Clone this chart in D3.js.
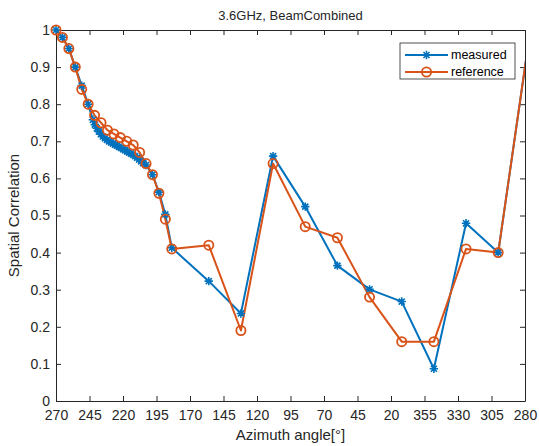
<!DOCTYPE html>
<html>
<head>
<meta charset="utf-8">
<script src="https://cdn.jsdelivr.net/npm/d3@7"></script>
<style>
  html, body { margin: 0; padding: 0; background: #fff; }
  svg { display: block; font-family: "Liberation Sans", Arial, sans-serif; }
</style>
</head>
<body>
<svg id="chart" width="539" height="446"></svg>
<script>
// Azimuth angles (deg) sampled clockwise from 270 through 0; values > 270 lie past north.
const measuredAz = [270, 265.2, 260.4, 255.6, 250.8, 246, 242.5, 241, 239.5, 238, 236.5, 235, 233.5,
  232, 230.5, 229, 227.5, 226, 224.5, 223, 221.5, 220, 218.5, 217, 215.5, 214, 212.5, 211, 209.5,
  208, 206.5, 205, 202.8, 198, 193.2, 188.4, 183.6, 156, 132, 108, 84, 60, 36, 12, 348, 324, 300, 276];
const measuredVal = [1.0, 0.98, 0.95, 0.90, 0.85, 0.80, 0.758, 0.745, 0.735, 0.726, 0.719, 0.713, 0.708,
  0.704, 0.700, 0.697, 0.694, 0.691, 0.688, 0.685, 0.682, 0.679, 0.676, 0.673, 0.670, 0.667, 0.664,
  0.660, 0.656, 0.651, 0.646, 0.641, 0.636, 0.61, 0.563, 0.503, 0.413, 0.323, 0.236, 0.66, 0.524,
  0.365, 0.301, 0.268, 0.087, 0.479, 0.40, 1.0];

const referenceAz = [270, 265.2, 260.4, 255.6, 250.8, 246, 241.2, 236.4, 231.6, 226.8, 222, 217.2,
  212.4, 207.6, 202.8, 198, 193.2, 188.4, 183.6, 156, 132, 108, 84, 60, 36, 12, 348, 324, 300, 276];
const referenceVal = [1.0, 0.98, 0.95, 0.90, 0.84, 0.80, 0.77, 0.75, 0.73, 0.72, 0.71, 0.70, 0.69,
  0.67, 0.64, 0.61, 0.56, 0.49, 0.41, 0.42, 0.19, 0.64, 0.47, 0.44, 0.28, 0.16, 0.16, 0.41, 0.40, 1.0];

const xTicks = [270, 245, 220, 195, 170, 145, 120, 95, 70, 45, 20, -5, -30, -55, -80];
const yTicks = [0, 0.1, 0.2, 0.3, 0.4, 0.5, 0.6, 0.7, 0.8, 0.9, 1];

const seriesNames = ["measured", "reference"];
const colors = ["#0072BD", "#D95319"];

// unwrap an azimuth so the sweep 270 -> 0 -> 280 is continuous
const unwrap = a => (a <= 270 ? a : a - 360);

const margin = { left: 56, right: 14, top: 30, bottom: 45 };
const W = 539, H = 446;
const svg = d3.select("#chart");
const x = d3.scaleLinear().domain([270, -80]).range([margin.left, W - margin.right]);
const y = d3.scaleLinear().domain([0, 1]).range([H - margin.bottom, margin.top]);
const axisColor = "#262626";
const tickLen = 5;

svg.append("defs").append("clipPath").attr("id", "plotClip")
  .append("rect")
  .attr("x", x.range()[0]).attr("y", y.range()[1])
  .attr("width", x.range()[1] - x.range()[0])
  .attr("height", y.range()[0] - y.range()[1]);

// axes: bottom / left with labels, top / right as bare ticks (boxed frame)
const fmtAz = d => String((d + 360) % 360);
const gx = svg.append("g").attr("transform", `translate(0,${y(0)})`)
  .call(d3.axisBottom(x).tickValues(xTicks).tickFormat(fmtAz).tickSizeInner(-tickLen).tickSizeOuter(0).tickPadding(9));
const gxTop = svg.append("g").attr("transform", `translate(0,${y(1)})`)
  .call(d3.axisTop(x).tickValues(xTicks).tickFormat("").tickSizeInner(-tickLen).tickSizeOuter(0));
const gy = svg.append("g").attr("transform", `translate(${x(270)},0)`)
  .call(d3.axisLeft(y).tickValues(yTicks).tickFormat(d => d3.format("~g")(d)).tickSizeInner(-tickLen).tickSizeOuter(0).tickPadding(6));
const gyRight = svg.append("g").attr("transform", `translate(${x(-80)},0)`)
  .call(d3.axisRight(y).tickValues(yTicks).tickFormat("").tickSizeInner(-tickLen).tickSizeOuter(0));

[gx, gxTop, gy, gyRight].forEach(g => {
  g.select(".domain").attr("stroke", axisColor).attr("stroke-width", 1);
  g.selectAll(".tick line").attr("stroke", axisColor).attr("stroke-width", 1);
  g.selectAll(".tick text").attr("fill", axisColor).style("font-size", "14px")
    .style("font-family", "'Liberation Sans', Arial, sans-serif");
});

// series
const series = [
  { name: seriesNames[0], color: colors[0], marker: "star",
    pts: measuredAz.map((a, i) => ({ a: unwrap(a), v: measuredVal[i] })) },
  { name: seriesNames[1], color: colors[1], marker: "circle",
    pts: referenceAz.map((a, i) => ({ a: unwrap(a), v: referenceVal[i] })) }
];

const line = d3.line().x(d => x(d.a)).y(d => y(d.v));
const plot = svg.append("g").attr("clip-path", "url(#plotClip)");

function drawMarker(g, type, cx, cy, color) {
  if (type === "circle") {
    g.append("circle").attr("cx", cx).attr("cy", cy).attr("r", 4.6)
      .attr("fill", "none").attr("stroke", color).attr("stroke-width", 1.8);
  } else {
    const r = 4.2, d = r * 0.72;
    const p = `M${cx - r},${cy}L${cx + r},${cy}M${cx},${cy - r}L${cx},${cy + r}` +
      `M${cx - d},${cy - d}L${cx + d},${cy + d}M${cx - d},${cy + d}L${cx + d},${cy - d}`;
    g.append("path").attr("d", p).attr("stroke", color).attr("stroke-width", 1.6).attr("fill", "none");
  }
}

// lines are clipped to the axes box; markers are drawn only for in-range points, unclipped
series.forEach(s => {
  plot.append("path").datum(s.pts).attr("d", line)
    .attr("fill", "none").attr("stroke", s.color).attr("stroke-width", 2)
    .attr("stroke-linejoin", "round");
});
series.forEach(s => {
  const mg = svg.append("g");
  s.pts.filter(p => p.a <= 270 && p.a >= -80)
    .forEach(p => drawMarker(mg, s.marker, x(p.a), y(p.v), s.color));
});

// title and axis labels
svg.append("text").attr("x", (x.range()[0] + x.range()[1]) / 2).attr("y", 20)
  .attr("text-anchor", "middle").attr("fill", axisColor).style("font-size", "13px")
  .text("3.6GHz, BeamCombined");
svg.append("text").attr("x", (x.range()[0] + x.range()[1]) / 2).attr("y", 440)
  .attr("text-anchor", "middle").attr("fill", axisColor).style("font-size", "15px")
  .text("Azimuth angle[°]");
svg.append("text").attr("transform", `translate(19,${(y(0) + y(1)) / 2}) rotate(-90)`)
  .attr("text-anchor", "middle").attr("fill", axisColor).style("font-size", "15px")
  .text("Spatial Correlation");

// legend
const lg = svg.append("g").attr("transform", "translate(400,43)");
lg.append("rect").attr("width", 115).attr("height", 36)
  .attr("fill", "#fff").attr("stroke", axisColor).attr("stroke-width", 0.8);
series.forEach((s, i) => {
  const yy = 12 + i * 17;
  lg.append("line").attr("x1", 5).attr("x2", 48).attr("y1", yy).attr("y2", yy)
    .attr("stroke", s.color).attr("stroke-width", 2);
  drawMarker(lg, s.marker, 26.5, yy, s.color);
  lg.append("text").attr("x", 51).attr("y", yy).attr("dy", "0.35em")
    .attr("fill", "#000").style("font-size", "12.5px").text(s.name);
});
</script>
</body>
</html>
